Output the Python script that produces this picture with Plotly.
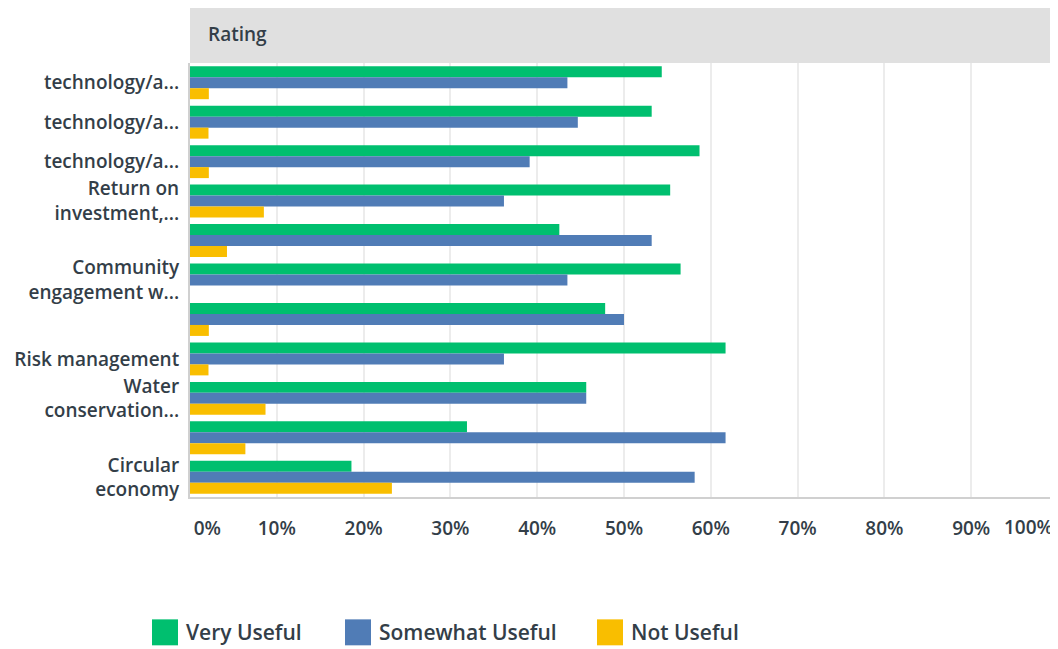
import plotly.graph_objects as go

# ---- data ----
category_keys = ["q1", "q2", "q3", "q4", "q5", "q6", "q7", "q8", "q9", "q10", "q11"]
category_labels = [
    "technology/a...",
    "technology/a...",
    "technology/a...",
    "Return on<br>investment,...",
    "",
    "Community<br>engagement w...",
    "",
    "Risk management",
    "Water<br>conservation...",
    "",
    "Circular<br>economy",
]
very_useful = [54.35, 53.19, 58.70, 55.32, 42.55, 56.52, 47.83, 61.70, 45.65, 31.91, 18.60]
somewhat_useful = [43.48, 44.68, 39.13, 36.17, 53.19, 43.48, 50.00, 36.17, 45.65, 61.70, 58.14]
not_useful = [2.17, 2.13, 2.17, 8.51, 4.26, 0.0, 2.17, 2.13, 8.70, 6.38, 23.26]
x_tick_vals = [0, 10, 20, 30, 40, 50, 60, 70, 80, 90, 100]
x_tick_text = ["0%", "10%", "20%", "30%", "40%", "50%", "60%", "70%", "80%", "90%", "100%"]

series_names = ["Very Useful", "Somewhat Useful", "Not Useful"]
series_values = [very_useful, somewhat_useful, not_useful]
series_colors = ["#00bf6f", "#507cb6", "#f9be00"]

TEXT = "#333e48"
FONT = "Open Sans"
TICK_SIZE = 19

fig = go.Figure()
for name, vals, color in zip(series_names, series_values, series_colors):
    fig.add_trace(go.Bar(
        y=category_keys, x=vals, name=name, orientation="h",
        marker=dict(color=color, line=dict(width=0)),
        hoverinfo="x+name", showlegend=False,
    ))

# page has an 8px body margin, so the figure is drawn 8px smaller
W, H = 1050, 641
ml, mr, mt = 182, 0, 55
plot_w = W - ml - mr
plot_h = 434.5
mb = H - mt - plot_h

# edge tick labels sit inside the plot width like the original:
# 0% is left-aligned at the axis start, 100% is right-aligned at the end (drawn as annotation)
x_tick_text_disp = list(x_tick_text)
x_tick_text_disp[0] = "\u00a0" * 7 + x_tick_text[0]
x_tick_text_disp[-1] = ""

fig.update_layout(
    width=W, height=H,
    margin=dict(l=ml, r=mr, t=mt, b=mb, autoexpand=False),
    paper_bgcolor="white", plot_bgcolor="white",
    barmode="group", bargap=0.165, bargroupgap=0,
    font=dict(family=FONT, color=TEXT, size=TICK_SIZE),
    showlegend=False,
    xaxis=dict(
        range=[0, 100], tickvals=x_tick_vals, ticktext=x_tick_text_disp,
        showgrid=True, gridcolor="#ececec", gridwidth=2,
        zeroline=False, showline=True, linecolor="#d0d0d0", linewidth=2,
        ticks="", ticklabelstandoff=13,
        tickfont=dict(size=TICK_SIZE, color=TEXT, family=FONT, weight=600),
        fixedrange=True, automargin=False,
    ),
    yaxis=dict(
        type="category", categoryorder="array", categoryarray=category_keys,
        autorange="reversed",
        tickvals=category_keys, ticktext=category_labels,
        showgrid=False, zeroline=False,
        showline=True, linecolor="#d0d0d0", linewidth=2,
        ticks="", ticklabelstandoff=5,
        tickfont=dict(size=TICK_SIZE, color=TEXT, family=FONT, weight=600),
        fixedrange=True, automargin=False,
    ),
)

def px_to_paper_x(px):
    return (px - ml) / plot_w

def px_to_paper_y(py):
    return (mt + plot_h - py) / plot_h

# last x tick label, right-aligned to the plot edge
fig.add_annotation(xref="x", yref="paper", x=x_tick_vals[-1], y=px_to_paper_y(mt + plot_h + 30),
                   xanchor="right", yanchor="middle", xshift=-3, showarrow=False,
                   text=x_tick_text[-1],
                   font=dict(size=TICK_SIZE, color=TEXT, family=FONT, weight=600))

# header band with "Rating"
fig.add_shape(type="rect", xref="paper", yref="paper",
              x0=0, x1=1, y0=1.0, y1=px_to_paper_y(0),
              fillcolor="#e0e0e0", line=dict(width=0), layer="below")
fig.add_annotation(xref="paper", yref="paper", x=px_to_paper_x(ml + 16), y=px_to_paper_y(mt / 2 - 2),
                   xanchor="left", yanchor="middle", showarrow=False,
                   text="Rating", font=dict(size=19, color=TEXT, family=FONT, weight=600))

# legend (large swatches as in the original)
legend_square_left = [144, 337, 589]
legend_y = 625
sq = 26
for left, name, color in zip(legend_square_left, series_names, series_colors):
    fig.add_shape(type="rect", xref="paper", yref="paper",
                  x0=px_to_paper_x(left), x1=px_to_paper_x(left + sq),
                  y0=px_to_paper_y(legend_y + sq / 2), y1=px_to_paper_y(legend_y - sq / 2),
                  fillcolor=color, line=dict(width=0))
    fig.add_annotation(xref="paper", yref="paper", x=px_to_paper_x(left + sq + 6),
                       y=px_to_paper_y(legend_y), xanchor="left", yanchor="middle",
                       showarrow=False, text=name,
                       font=dict(size=21, color=TEXT, family=FONT, weight=600))

fig.write_html("out.html")
